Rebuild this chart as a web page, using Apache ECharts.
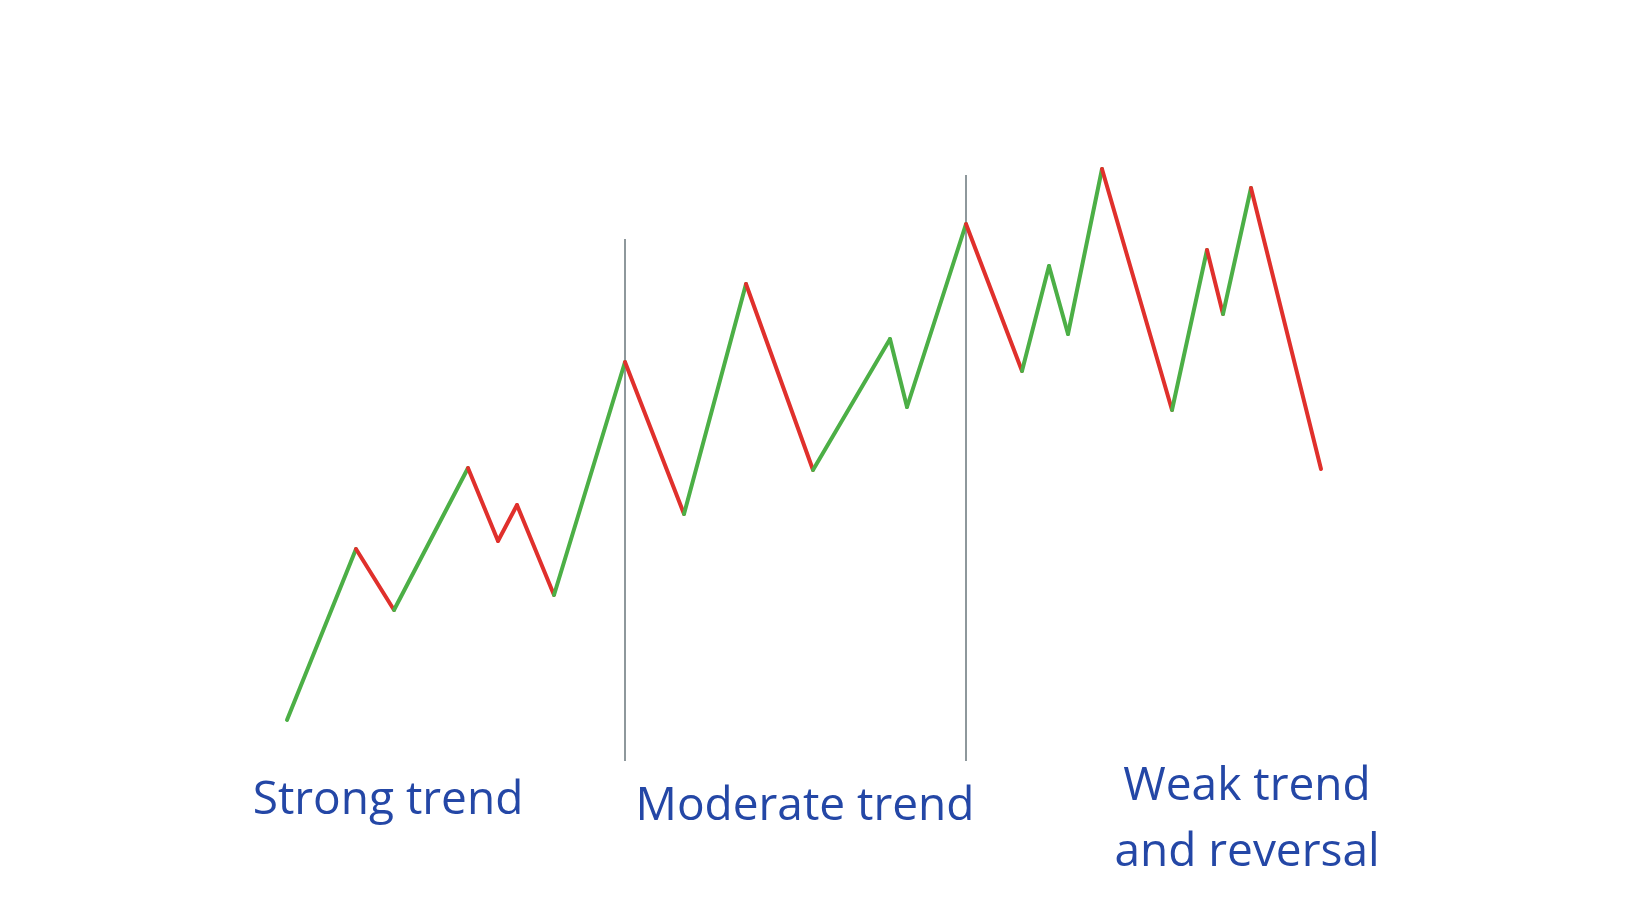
<!DOCTYPE html>
<html>
<head>
<meta charset="utf-8">
<script src="https://cdn.jsdelivr.net/npm/echarts@6/dist/echarts.min.js"></script>
<style>html,body{margin:0;background:#fff}#chart{width:1640px;height:912px}</style>
</head>
<body>
<div id="chart"></div>
<script>
// price path (x, y in chart units; y grows downward)
const pathX = [287, 356, 394, 468, 498, 517, 554, 625, 684, 746, 813, 890, 907, 966, 1022, 1049, 1068, 1102, 1172, 1207, 1223, 1251, 1321]
const pathY = [720, 549, 610, 468, 541, 505, 595, 362, 514, 284, 470, 339, 407, 224, 371, 266, 334, 169, 410, 250, 314, 188, 469]
// colour group of each segment: 1 = green, 0 = red
const segmentGroup = [1, 0, 1, 0, 0, 0, 1, 0, 1, 0, 1, 1, 1, 0, 1, 1, 1, 0, 1, 0, 1, 0]
// phase dividers
const dividerX = [625, 966]
const dividerTop = [239, 175]
const dividerBottom = 761
const labels = [
    { text: 'Strong trend', x: 388, y: 801 },
    { text: 'Moderate trend', x: 805, y: 807 },
    { text: 'Weak trend\nand reversal', x: 1247, y: 820 },
]

const chart = echarts.init(document.getElementById('chart'))

const series = []
for (let i = 0; i < pathX.length - 1; i++) {
    series.push({
        type: 'line',
        data: [[pathX[i], pathY[i]], [pathX[i + 1], pathY[i + 1]]],
        symbol: 'none',
        lineStyle: { width: 4, color: segmentGroup[i] ? '#4caf46' : '#e0302c', cap: 'round' },
        z: 3,
    })
}
dividerX.forEach((x, i) => {
    series.push({
        type: 'line',
        data: [[x, dividerTop[i]], [x, dividerBottom]],
        symbol: 'none',
        lineStyle: { width: 2, color: '#8e989c' },
        z: 2,
    })
})

chart.setOption({
    animation: false,
    grid: { left: 0, right: 0, top: 0, bottom: 0 },
    xAxis: { type: 'value', min: 0, max: 1640, show: false },
    yAxis: { type: 'value', min: 0, max: 912, inverse: true, show: false },
    series,
    graphic: labels.map(l => ({
        type: 'text',
        x: l.x,
        y: l.y,
        style: {
            text: l.text,
            fill: '#2447a6',
            font: '46px "Open Sans"',
            align: 'center',
            verticalAlign: 'middle',
            lineHeight: 66,
        },
    })),
})
</script>
</body>
</html>
